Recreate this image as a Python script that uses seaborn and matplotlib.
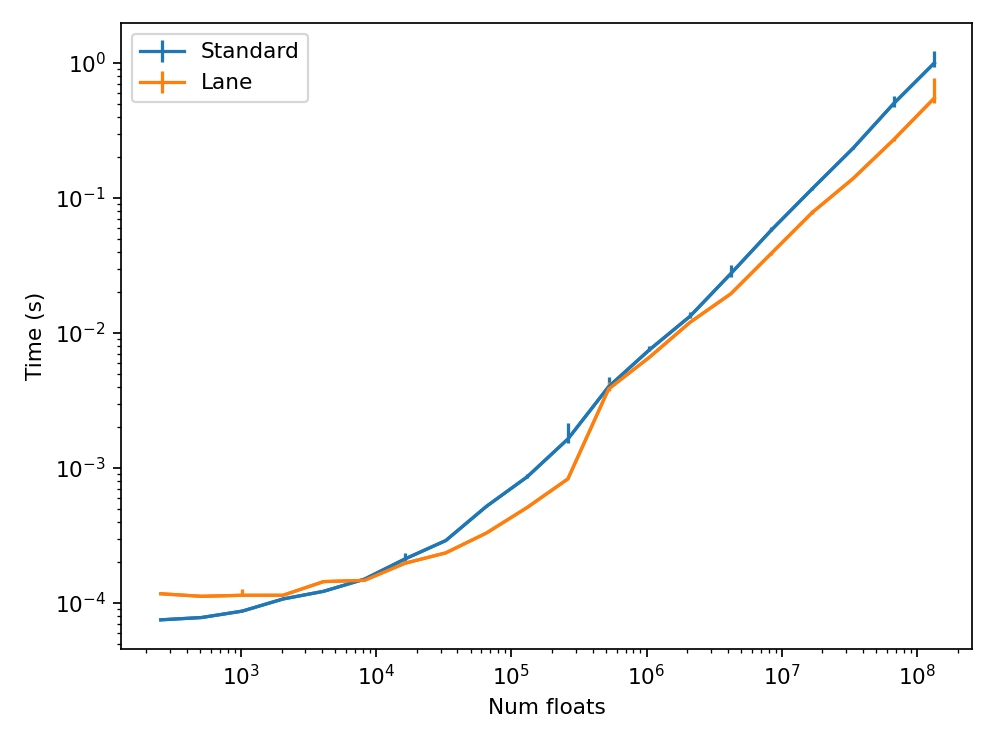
import numpy as np
import pandas as pd
import matplotlib
matplotlib.use("Agg")
import matplotlib.pyplot as plt
import seaborn as sns

# ---- data ----
num_floats = [2 ** k for k in range(8, 28)]
standard = [7.5e-5, 7.8e-5, 8.7e-5, 1.07e-4, 1.22e-4, 1.5e-4, 2.12e-4, 2.9e-4, 5.2e-4, 8.6e-4,
            1.64e-3, 4.0e-3, 7.5e-3, 1.33e-2, 2.75e-2, 5.8e-2, 1.17e-1, 2.33e-1, 5.0e-1, 1.0]
standard_err_lo = [0, 0, 0, 0, 0, 0, 6e-6, 0, 5e-6, 2e-5,
                   1.1e-4, 2e-4, 2e-4, 3e-4, 1.5e-3, 1e-3, 2e-3, 3e-3, 3e-2, 7e-2]
standard_err_hi = [0, 0, 0, 0, 0, 0, 2.4e-5, 0, 1.2e-5, 5e-5,
                   5.2e-4, 7e-4, 5e-4, 1e-3, 4.5e-3, 3e-3, 4e-3, 5e-3, 7e-2, 2.3e-1]
lane = [1.17e-4, 1.12e-4, 1.14e-4, 1.14e-4, 1.44e-4, 1.47e-4, 1.97e-4, 2.35e-4, 3.3e-4, 5.1e-4,
        8.3e-4, 3.85e-3, 6.6e-3, 1.2e-2, 1.95e-2, 3.9e-2, 7.8e-2, 1.39e-1, 2.7e-1, 5.5e-1]
lane_err_lo = [0, 0, 0, 0, 0, 0, 3e-6, 0, 0, 0,
               0, 1e-4, 0, 0, 0, 1e-3, 2e-3, 0, 5e-3, 4e-2]
lane_err_hi = [0, 0, 1.2e-5, 0, 0, 0, 1e-5, 0, 0, 0,
               0, 5e-4, 0, 0, 0, 1e-3, 3e-3, 0, 1e-2, 2.2e-1]

df = pd.DataFrame({
    "Num floats": num_floats * 2,
    "Time (s)": standard + lane,
    "kind": ["Standard"] * len(num_floats) + ["Lane"] * len(num_floats),
})

colors = sns.color_palette("tab10")[:2]

fig = plt.figure(figsize=(6.4, 4.8), dpi=155.625)
ax = fig.add_axes([121 / 996, 1 - 649 / 747, (972 - 121) / 996, (649 - 23) / 747])

sns.lineplot(data=df, x="Num floats", y="Time (s)", hue="kind", palette=colors,
             linewidth=1.5, legend=False, ax=ax, estimator=None)
ax.errorbar(num_floats, standard, yerr=[standard_err_lo, standard_err_hi], fmt="-",
            color=colors[0], lw=1.5, elinewidth=1.5, label="Standard")
ax.errorbar(num_floats, lane, yerr=[lane_err_lo, lane_err_hi], fmt="-",
            color=colors[1], lw=1.5, elinewidth=1.5, label="Lane")

ax.set_xscale("log")
ax.set_yscale("log")
ax.set_xlim(130, 2.55e8)
ax.set_ylim(4.56e-5, 1.98)
ax.set_xlabel("Num floats")
ax.set_ylabel("Time (s)")
ax.legend(loc="upper left")

fig.savefig("out.png", dpi=155.625)
